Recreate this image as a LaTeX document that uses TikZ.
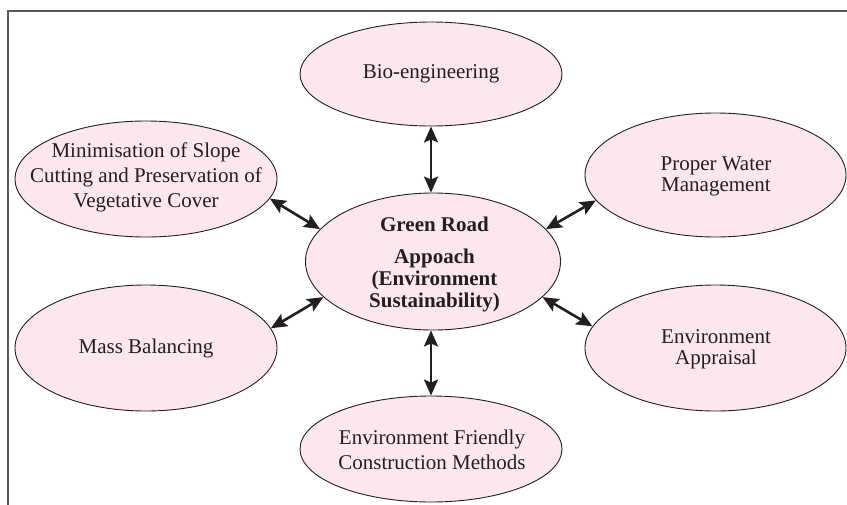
\documentclass[tikz,border=0pt]{standalone}
\usepackage{fontspec}
\setmainfont{Liberation Serif}
\usetikzlibrary{shapes.geometric,arrows.meta}
\definecolor{blobfill}{HTML}{FCE6EF}
\definecolor{ink}{HTML}{231F20}
\definecolor{framec}{HTML}{5A5A5A}
\tikzset{
  blob/.style={ellipse, draw=ink, line width=0.9pt, fill=blobfill, inner sep=0pt},
  txt/.style={align=center, text=ink, font=\fontsize{21}{25}\selectfont, inner sep=0pt},
  btxt/.style={align=center, text=ink, font=\fontsize{21}{22}\selectfont\bfseries, inner sep=0pt},
  link/.style={draw=ink, line width=2.6pt, {Stealth[length=16pt,width=14pt,inset=3pt]}-{Stealth[length=16pt,width=14pt,inset=3pt]}}
}
\begin{document}
\begin{tikzpicture}[x=1pt,y=-1pt]
\useasboundingbox (0,0) rectangle (847,504);
\draw[framec, line width=2pt] (7.5,510) -- (7.5,10.5) -- (850,10.5);
% ellipses
\node[blob, minimum width=262pt, minimum height=104pt] (bio) at (431,74) {};
\node[blob, minimum width=262pt, minimum height=116pt] (mini) at (146,179) {};
\node[blob, minimum width=261pt, minimum height=124pt] (water) at (715.5,175) {};
\node[blob, minimum width=255pt, minimum height=137pt] (c) at (433,261.5) {};
\node[blob, minimum width=262pt, minimum height=126pt] (mass) at (146,348) {};
\node[blob, minimum width=261pt, minimum height=126pt] (appr) at (715.5,348) {};
\node[blob, minimum width=262pt, minimum height=106pt] (ef) at (431,449) {};
% texts
\node[txt] (tbio) at (bio) {Bio-engineering};
\node[txt] (tmini) at (146,177) {Minimisation of Slope\\Cutting and Preservation of\\Vegetative Cover};
\node[txt, font=\fontsize{21}{21}\selectfont] (twater) at (716,176.5) {Proper Water\\Management};
\node[btxt] (tc1) at (434.5,224) {Green Road};
\node[btxt] (tc2) at (434.5,280) {Appoach\\(Environment\\Sustainability)};
\node[txt] (tmass) at (mass) {Mass Balancing};
\node[txt, font=\fontsize{21}{21}\selectfont] (tappr) at (716,349) {Environment\\Appraisal};
\node[txt] (tef) at (432,449.5) {Environment Friendly\\Construction Methods};
% connectors
\draw[link] (bio.south) -- (bio.south |- c.north);
\draw[link] (ef.north |- c.south) -- (ef.north);
\draw[link] (mini.-9) -- (c.164);
\draw[link] (water.192) -- (c.16);
\draw[link] (mass.9) -- (c.198);
\draw[link] (appr.170) -- (c.-18);
\end{tikzpicture}
\end{document}
